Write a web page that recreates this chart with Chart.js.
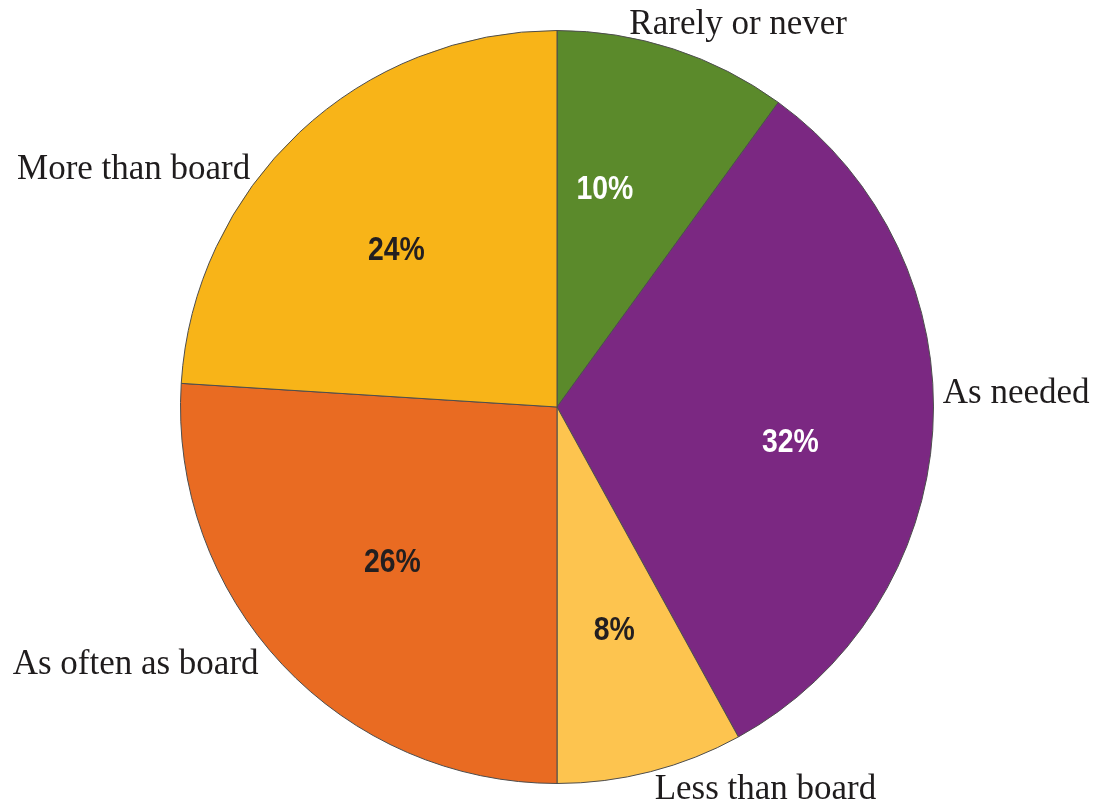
<!DOCTYPE html>
<html>
<head>
<meta charset="utf-8">
<script src="https://cdn.jsdelivr.net/npm/chart.js@4/dist/chart.umd.min.js"></script>
<style>
  html, body { margin: 0; padding: 0; background: #ffffff; }
  #wrap { width: 1097px; height: 804px; position: relative; }
</style>
</head>
<body>
<div id="wrap"><canvas id="pieChart"></canvas></div>
<script>
const labels = ["Rarely or never", "As needed", "Less than board", "As often as board", "More than board"];
const shares = [10, 32, 8, 26, 24];
const sliceColors = ["#5b8a2b", "#7b2882", "#fdc44f", "#e96b22", "#f8b418"];
const pctColors = ["#ffffff", "#ffffff", "#231f20", "#231f20", "#231f20"];

// outer label placement relative to the outer point of each slice
var outerLabelOpts = [
  { align: 'left',  dx: -44, dy: -24 },
  { align: 'left',  dx: 10,  dy: -37 },
  { align: 'left',  dx: 4,   dy: 18 },
  { align: 'right', dx: -24, dy: 0 },
  { align: 'right', dx: -49, dy: 37 }
];
// small nudges for the percent labels (from 0.6 radius on mid angle)
var pctNudge = [
  { dx: -22, dy: -2 },
  { dx: 8,   dy: 22 },
  { dx: 1,   dy: 5 },
  { dx: 0,   dy: 1 },
  { dx: -6,  dy: 9 }
];

const sliceLabels = {
  id: 'sliceLabels',
  afterDatasetsDraw(chart) {
    const ctx = chart.ctx;
    const meta = chart.getDatasetMeta(0);
    ctx.save();
    ctx.textBaseline = 'middle';
    meta.data.forEach(function(arc, i) {
      const p = arc.getProps(['x', 'y', 'startAngle', 'endAngle', 'outerRadius'], true);
      const mid = (p.startAngle + p.endAngle) / 2;
      // percent inside, squeezed to look like a condensed face
      const r1 = p.outerRadius * 0.6;
      const px = p.x + Math.cos(mid) * r1 + pctNudge[i].dx;
      const py = p.y + Math.sin(mid) * r1 + pctNudge[i].dy;
      ctx.save();
      ctx.translate(px, py);
      ctx.scale(0.86, 1);
      ctx.font = 'bold 33px "Liberation Sans", Arial, sans-serif';
      ctx.fillStyle = pctColors[i];
      ctx.textAlign = 'center';
      ctx.fillText(shares[i] + '%', 0, 0);
      ctx.restore();
      // category outside
      const o = outerLabelOpts[i];
      ctx.font = '35px "Liberation Serif", "DejaVu Serif", serif';
      ctx.fillStyle = '#1f1c1d';
      ctx.textAlign = o.align;
      ctx.fillText(labels[i], p.x + Math.cos(mid) * p.outerRadius + o.dx, p.y + Math.sin(mid) * p.outerRadius + o.dy);
    });
    ctx.restore();
  }
};

const CHART = document.getElementById("pieChart");
let pieChart = new Chart(CHART, {
  type: 'pie',
  data: {
    labels: labels,
    datasets: [{
      data: shares,
      backgroundColor: sliceColors,
      borderColor: "#4d4d4d",
      borderWidth: 1
    }]
  },
  options: {
    responsive: true,
    maintainAspectRatio: false,
    animation: false,
    layout: { padding: { left: 180, right: 163, top: 30, bottom: 20 } },
    plugins: {
      legend: { display: false },
      tooltip: { enabled: false }
    }
  },
  plugins: [sliceLabels]
});
</script>
</body>
</html>
